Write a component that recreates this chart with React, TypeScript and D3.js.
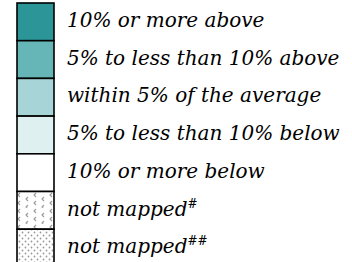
import React from "react";
import * as d3 from "d3";

const labels = [
  "10% or more above",
  "5% to less than 10% above",
  "within 5% of the average",
  "5% to less than 10% below",
  "10% or more below",
  "not mapped",
  "not mapped",
];
const superscripts = ["", "", "", "", "", "#", "##"];
const fills = ["#2b9597", "#66b6b7", "#a7d5d7", "#dff0f0", "#ffffff", "url(#pat1)", "url(#pat2)"];

export default function App() {
  const W = 352, H = 262;
  const y = d3.scaleBand<number>().domain(d3.range(labels.length)).range([3, 3 + 37.7 * labels.length]).padding(0);
  const boxX = 17, boxW = 37;
  return (
    <svg width={W} height={H} style={{ position: "absolute", left: 0, top: 0 }}>
      <defs>
        <pattern id="pat1" width="16" height="16" patternUnits="userSpaceOnUse">
          <rect width="16" height="16" fill="#fff" />
          {[[2, 3], [10, 7], [2, 11], [10, 15]].map(([px, py], i) => (
            <path key={i} d={`M${px + 2},${py - 2} L${px},${py} L${px + 2},${py + 2}`} stroke="#999" strokeWidth={1.1} fill="none" />
          ))}
        </pattern>
        <pattern id="pat2" width="6" height="6" patternUnits="userSpaceOnUse">
          <rect width="6" height="6" fill="#fff" />
          <circle cx="1.5" cy="1.5" r="0.9" fill="#999" />
          <circle cx="4.5" cy="4.5" r="0.9" fill="#999" />
        </pattern>
      </defs>
      {labels.map((l, i) => (
        <g key={i}>
          <rect x={boxX} y={y(i)} width={boxW} height={y.bandwidth()} fill={fills[i]} stroke="#000" strokeWidth={1.6} />
          <text x={67} y={(y(i) as number) + 24} fontFamily="DejaVu Serif" fontStyle="italic" fontSize={20} fill="#000">
            {l}
            {superscripts[i] && (
              <tspan fontSize={12} dy={-8}>{superscripts[i]}</tspan>
            )}
          </text>
        </g>
      ))}
    </svg>
  );
}
